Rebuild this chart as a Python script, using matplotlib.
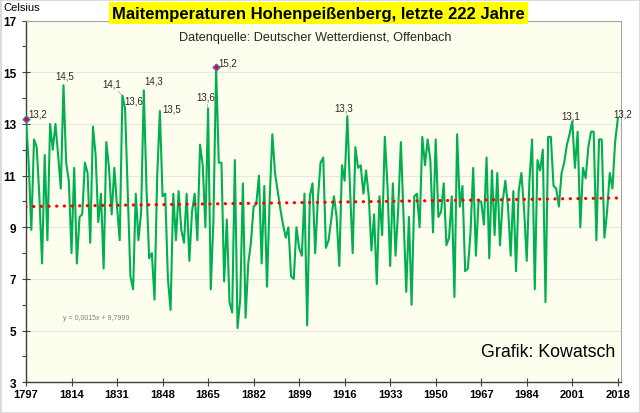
import numpy as np
import matplotlib
matplotlib.use("Agg")
import matplotlib.pyplot as plt
from matplotlib.patches import Rectangle

plt.rcParams['font.family'] = ['Liberation Sans', 'DejaVu Sans']

# Mai-Mittel Hohenpeissenberg 1797-2018
first_year = 1797
mai_temp = [
    13.2, 11.5, 8.9, 12.4, 12.1, 10.2, 7.6, 11.8, 8.5, 13.0,
    12.0, 13.0, 11.8, 10.5, 14.5, 11.5, 10.8, 8.0, 11.3, 7.6,
    9.4, 9.5, 11.5, 11.1, 8.4, 12.9, 11.8, 9.2, 10.3, 7.4,
    12.3, 11.3, 9.5, 11.3, 9.8, 8.5, 14.1, 13.6, 10.4, 7.1,
    6.6, 10.3, 8.5, 9.6, 14.3, 10.5, 7.8, 8.0, 6.2, 11.0,
    13.5, 10.2, 10.3, 7.0, 5.8, 10.3, 8.5, 10.4, 8.9, 8.4,
    10.3, 7.7, 9.6, 10.3, 8.5, 12.2, 11.4, 9.0, 13.6, 6.6,
    9.3, 15.2, 11.5, 11.5, 6.9, 9.3, 6.1, 5.7, 11.6, 5.1,
    6.2, 10.7, 5.5, 7.6, 8.4, 9.8, 9.9, 11.0, 7.6, 10.6,
    6.7, 10.1, 12.6, 11.1, 10.4, 9.7, 9.1, 8.6, 9.0, 7.1,
    7.0, 9.0, 8.2, 7.9, 10.3, 5.2, 10.2, 10.7, 8.0, 10.1,
    11.5, 11.7, 8.2, 8.5, 9.3, 10.2, 9.4, 7.5, 11.4, 10.8,
    13.3, 10.5, 8.0, 12.1, 11.3, 11.4, 10.3, 11.2, 10.2, 8.1,
    9.5, 6.8, 10.2, 8.7, 12.5, 10.6, 7.5, 10.7, 7.9, 9.7,
    12.3, 9.4, 6.5, 9.4, 6.0, 10.2, 10.3, 9.0, 12.5, 11.4,
    12.4, 11.6, 8.8, 12.4, 9.4, 9.6, 10.7, 8.3, 8.6, 10.2,
    6.3, 12.6, 9.8, 10.6, 7.3, 7.4, 8.8, 11.3, 7.9, 10.0,
    10.0, 9.1, 11.7, 7.8, 11.2, 8.7, 11.1, 8.3, 10.0, 10.8,
    9.8, 7.9, 10.4, 7.3, 10.4, 11.1, 9.7, 7.7, 10.8, 12.4,
    6.6, 11.6, 11.2, 12.0, 6.1, 12.5, 12.5, 10.6, 10.5, 9.8,
    11.1, 11.5, 12.2, 12.6, 13.1, 11.3, 12.7, 9.0, 11.3, 10.9,
    12.1, 12.7, 12.7, 8.5, 12.4, 12.4, 8.6, 9.6, 11.1, 10.5,
    12.3, 13.2,
]
years = np.arange(first_year, first_year + len(mai_temp))

# lineare Trendlinie aus Excel
trend_slope = 0.0015
trend_intercept = 9.7999

xticks = list(range(1797, 2019, 17))
yticks = list(range(3, 18, 2))

# beschriftete Werte: Jahr -> Versatz des Textes in pt, Ausrichtung, Leitlinie
labels = {
    1797: (1.5, 4, 'left', False),
    1811: (1, 7, 'center', False),
    1833: (-8, 8.5, 'center', True),
    1834: (6, 6, 'center', False),
    1841: (7, 7, 'center', False),
    1847: (8.5, 1.5, 'center', False),
    1865: (-2, 8.5, 'center', True),
    1868: (8, 3.5, 'center', False),
    1917: (-2.5, 6.5, 'center', True),
    2001: (-1, 4.5, 'center', False),
    2018: (3.5, 3.5, 'center', False),
}
marked_years = [1797, 1868]

temps = np.array(mai_temp)
fig = plt.figure(figsize=(6.4, 4.14), dpi=100, facecolor='white')
ax = fig.add_axes([0.0406, 0.0742, 0.9293, 0.8736])
ax.set_facecolor('#FEFEEE')

ax.plot(years, temps, color='#00B050', lw=1.5, zorder=3)

idx = np.arange(1, len(temps) + 1)
trend = trend_slope * idx + trend_intercept
ax.plot(years, trend, color='#FF0000', lw=2.3, linestyle=(0, (0.05, 2.35)),
        dash_capstyle='round', zorder=4)

for yr in marked_years:
    i = yr - first_year
    ax.plot(years[i], temps[i], marker='D', ms=3.5, mfc='#FF0000', mec='#4472C4',
            mew=1.0, zorder=5, clip_on=False)

for yr, (dx, dy, ha, lead) in labels.items():
    i = yr - first_year
    txt = f"{temps[i]:.1f}".replace('.', ',')
    props = dict(arrowstyle='-', color='#A6A6A6', lw=0.6, shrinkA=0, shrinkB=1) if lead else None
    ax.annotate(txt, (years[i], temps[i]), xytext=(dx, dy), textcoords='offset points',
                ha=ha, va='center', fontsize=7, color='#262626', arrowprops=props,
                annotation_clip=False, zorder=6)

ax.set_xlim(1797, 2019.1)
ax.set_ylim(3, 17)
ax.set_xticks(xticks)
ax.set_yticks(yticks)
ax.set_yticks(range(3, 18), minor=True)
ax.grid(axis='y', color='#E6E6E6', lw=0.8, zorder=0)
ax.tick_params(axis='both', which='major', direction='inout', length=6, width=0.8,
               colors='#404040', labelcolor='black')
ax.tick_params(axis='x', labelsize=8, pad=2)
ax.tick_params(axis='y', labelsize=8.5, pad=4)
ax.tick_params(axis='y', which='minor', direction='out', length=3, width=0.8, colors='#404040')
for lab in ax.get_xticklabels() + ax.get_yticklabels():
    lab.set_fontweight('bold')
for side in ['top', 'right']:
    ax.spines[side].set_color('#A6A6A6')
for side in ['left', 'bottom']:
    ax.spines[side].set_color('#404040')
    ax.spines[side].set_linewidth(1.0)

ax.text(0.487, 0.955, "Datenquelle: Deutscher Wetterdienst, Offenbach",
        transform=ax.transAxes, ha='center', va='center', fontsize=9.1, color='#262626')
ax.text(1810.8, 5.5, "y = 0,0015x + 9,7999", fontsize=5, color='#808080', va='center')
ax.text(0.99, 0.085, "Grafik: Kowatsch", transform=ax.transAxes, ha='right',
        va='center', fontsize=12.8, color='black')

fig.text(0.498, 0.966, "Maitemperaturen Hohenpeißenberg, letzte 222 Jahre",
         ha='center', va='center', fontsize=12, fontweight='bold',
         bbox=dict(boxstyle='square,pad=0.2', fc='#FFFF00', ec='none'))
fig.text(0.005, 0.981, "Celsius", fontsize=8, ha='left', va='center')

fig.patches.append(Rectangle((0, 0), 1, 1, transform=fig.transFigure, fill=False,
                             ec='#D9D9D9', lw=2))

fig.savefig('out.png', dpi=100)
